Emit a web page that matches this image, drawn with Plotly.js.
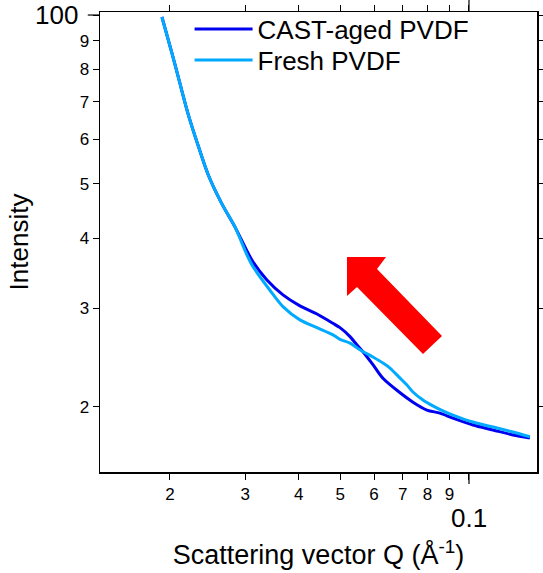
<!DOCTYPE html>
<html>
<head>
<meta charset="utf-8">
<script src="https://cdn.plot.ly/plotly-3.0.1.min.js"></script>
<style>html,body{margin:0;padding:0;background:#fff;}#chart{width:543px;height:573px;}</style>
</head>
<body>
<div id="chart"></div>
<script>
// Scattering vector Q (1/Å) and intensity
const castQ = [0.01915, 0.02018, 0.02110, 0.02207, 0.02329, 0.02458, 0.02641, 0.02837, 0.03027, 0.03126, 0.03370, 0.03674, 0.04025, 0.04412, 0.04809, 0.04994, 0.05270, 0.05472, 0.05651, 0.05963, 0.06292, 0.06900, 0.07396, 0.07974, 0.08549, 0.09173, 0.10217, 0.11380, 0.12670, 0.13880];
const castI = [99.2, 85.9, 75.5, 66.45, 58.4, 51.85, 46.15, 41.9, 37.95, 36.3, 33.7, 31.7, 30.3, 29.3, 28.2, 27.7, 26.7, 25.8, 25.1, 23.8, 22.5, 21.2, 20.4, 19.75, 19.5, 19.1, 18.57, 18.2, 17.83, 17.61];

const freshQ = [0.01915, 0.02018, 0.02110, 0.02207, 0.02329, 0.02458, 0.02641, 0.02837, 0.03027, 0.03126, 0.03425, 0.03674, 0.04025, 0.04412, 0.04809, 0.04994, 0.05270, 0.05561, 0.05963, 0.06292, 0.06535, 0.06900, 0.07161, 0.07396, 0.07804, 0.08233, 0.08690, 0.09173, 0.10217, 0.11380, 0.12670, 0.13880];
const freshI = [99.2, 85.9, 75.5, 66.45, 58.4, 51.85, 46.15, 41.9, 37.33, 35.6, 32.3, 30.2, 28.6, 27.7, 26.9, 26.4, 26.0, 25.3, 24.55, 23.95, 23.47, 22.52, 21.89, 21.27, 20.58, 20.09, 19.68, 19.35, 18.8, 18.42, 18.05, 17.7];

const seriesNames = ['CAST-aged PVDF', 'Fresh PVDF'];

const xTickVals = [0.02, 0.03, 0.04, 0.05, 0.06, 0.07, 0.08, 0.09, 0.1];
const xTickText = ['2', '3', '4', '5', '6', '7', '8', '9', ''];
const yTickVals = [20, 30, 40, 50, 60, 70, 80, 90, 100];
const yTickText = ['2', '3', '4', '5', '6', '7', '8', '9', ''];
const xDecadeLabel = '0.1';
const yDecadeLabel = '100';

const FONT = 'Liberation Sans, Arial, sans-serif';

const traces = [
  {x: castQ, y: castI, name: seriesNames[0], type: 'scatter', mode: 'lines', legend: 'legend',
   line: {color: '#0000F0', width: 3, shape: 'spline', smoothing: 0.8}},
  {x: freshQ, y: freshI, name: seriesNames[1], type: 'scatter', mode: 'lines', legend: 'legend2',
   line: {color: '#00AAFF', width: 3, shape: 'spline', smoothing: 0.8}}
];

const legendFont = {family: FONT, size: 26, color: '#000'};
const layout = {
  width: 543, height: 573,
  margin: {l: 100, r: 6, t: 12, b: 101, autoexpand: false},
  paper_bgcolor: '#fff', plot_bgcolor: '#fff',
  font: {family: FONT, color: '#000'},
  showlegend: true,
  legend: {x: 0.205, y: 0.963, xanchor: 'left', yanchor: 'middle', bgcolor: 'rgba(0,0,0,0)',
           font: legendFont, itemwidth: 58},
  legend2: {x: 0.205, y: 0.8957, xanchor: 'left', yanchor: 'middle', bgcolor: 'rgba(0,0,0,0)',
           font: legendFont, itemwidth: 58},
  xaxis: {
    type: 'log', range: [-1.8626, -0.841],
    tickmode: 'array', tickvals: xTickVals, ticktext: xTickText,
    ticks: 'outside', ticklen: 6, tickwidth: 1, tickcolor: '#000',
    tickfont: {family: FONT, size: 17, color: '#000'},
    showline: true, linecolor: '#000', linewidth: 1.5, mirror: 'ticks',
    showgrid: false, zeroline: false,
    title: {text: 'Scattering vector Q (Å<sup>-1</sup>)', font: {family: FONT, size: 27, color: '#000'}, standoff: 42}
  },
  yaxis: {
    type: 'log', range: [1.1851, 2.0054],
    tickmode: 'array', tickvals: yTickVals, ticktext: yTickText,
    ticks: 'outside', ticklen: 6, tickwidth: 1, tickcolor: '#000',
    tickfont: {family: FONT, size: 17, color: '#000'},
    showline: true, linecolor: '#000', linewidth: 1.5, mirror: 'ticks',
    showgrid: false, zeroline: false,
    title: {text: 'Intensity', font: {family: FONT, size: 26, color: '#000'}, standoff: 43}
  },
  annotations: [
    {text: xDecadeLabel, xref: 'x', yref: 'paper', x: Math.log10(0.1), y: -0.1,
     xanchor: 'center', yanchor: 'middle', showarrow: false,
     font: {family: FONT, size: 26, color: '#000'}},
    {text: yDecadeLabel, xref: 'paper', yref: 'y', x: -0.046, y: Math.log10(100),
     xanchor: 'right', yanchor: 'middle', showarrow: false,
     font: {family: FONT, size: 26, color: '#000'}}
  ],
  shapes: [
    // longer decade ticks
    {type: 'line', xref: 'x', yref: 'paper', x0: 0.1, x1: 0.1, y0: 0, y1: -0.026, line: {color: '#000', width: 1.2}},
    {type: 'line', xref: 'x', yref: 'paper', x0: 0.1, x1: 0.1, y0: 1, y1: 1.026, line: {color: '#000', width: 1.2}},
    {type: 'line', xref: 'paper', yref: 'y', x0: 0, x1: -0.028, y0: 100, y1: 100, line: {color: '#000', width: 1.2}},
    // red block arrow
    {type: 'path', xref: 'paper', yref: 'paper',
     path: 'M0.5652,0.4674 L0.6545,0.4674 L0.6339,0.4413 L0.7826,0.2957 L0.7391,0.2565 L0.5881,0.4022 L0.5652,0.3826 Z',
     fillcolor: '#FF0000', line: {width: 0}}
  ]
};

Plotly.newPlot('chart', traces, layout, {displayModeBar: false, staticPlot: true});
</script>
</body>
</html>
